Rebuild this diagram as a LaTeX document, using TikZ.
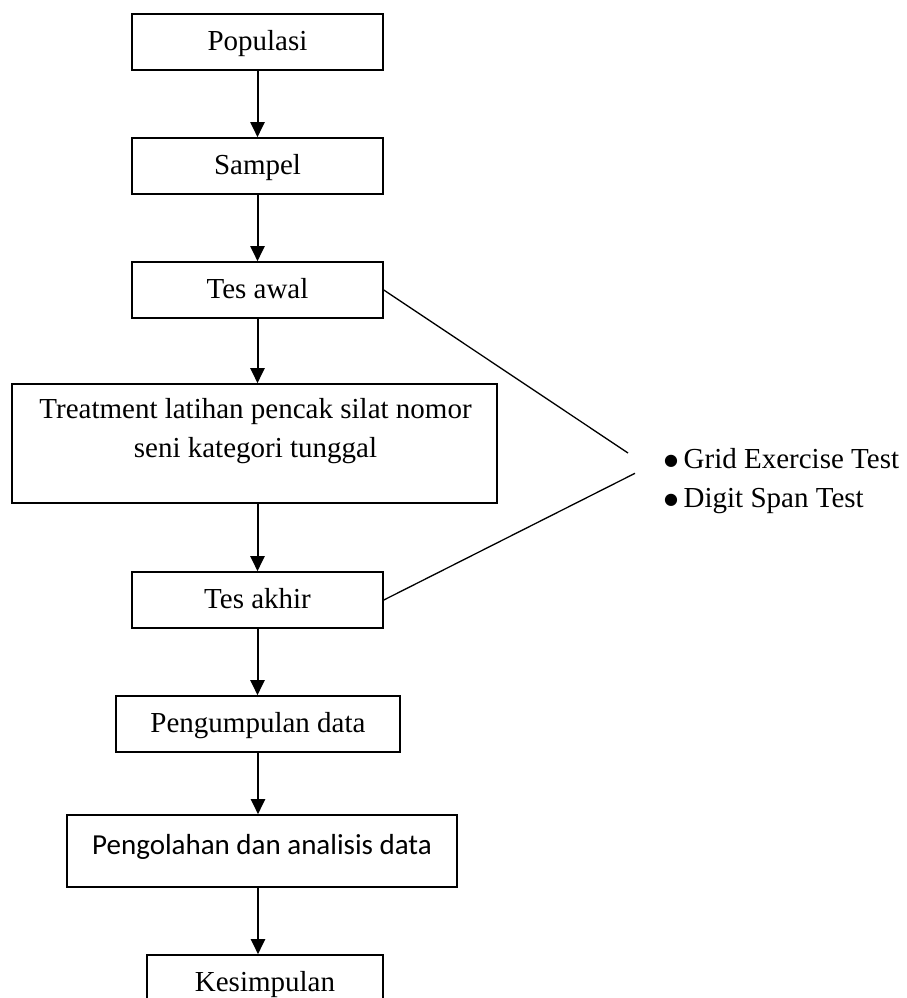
\documentclass[tikz,border=0pt]{standalone}
\usepackage{fontspec}
\setmainfont{Liberation Serif}
\newfontfamily\calibrifont{Carlito}
\newfontfamily\dejavufont{DejaVu Sans}
\usetikzlibrary{arrows.meta,positioning}

\newcommand{\bigbullet}{\raisebox{2.5pt}{\dejavufont\fontsize{16}{39}\selectfont ●}}

\begin{document}
\begin{tikzpicture}[
  x=1pt, y=-1pt,
  font=\fontsize{29}{39}\selectfont,
  >={Triangle[length=15pt,width=14pt]},
  box/.style    ={draw,line width=1.6pt,minimum height=56pt,inner sep=0pt,
                  text height=21pt,text depth=4pt},
  flow/.style   ={->,line width=2pt},
  link/.style   ={line width=1.3pt},
  testlist/.style ={anchor=north west,align=left,inner sep=0pt},
]
\useasboundingbox (0,0) rectangle (907,998);

%% ============================================================
%%  Main column
%% ============================================================
\node[box,minimum width=251pt] (pop)   at (257.5,42)  {Populasi};
\node[box,minimum width=251pt] (samp)  at (257.5,166) {Sampel};
\node[box,minimum width=251pt] (tesaw) at (257.5,290) {Tes awal};
\node[box,minimum width=485pt,minimum height=119pt] (treat) at (254.5,443.5) {};
\node[align=center,inner sep=0pt] (treattxt) at (255.5,431)
      {Treatment latihan pencak silat nomor\\seni kategori tunggal};
\node[box,minimum width=251pt] (tesak) at (257.5,600) {Tes akhir};
\node[box,minimum width=284pt] (peng)  at (258,724)   {Pengumpulan data};
\node[box,minimum width=390pt,minimum height=72pt,
      text height=20pt,text depth=14pt,font=\calibrifont\fontsize{29}{39}\selectfont]
      (olah) at (262,851) {Pengolahan dan analisis data};
\node[box,minimum width=236pt] (kes)   at (265,983)   {Kesimpulan};

%% Arrows down the column
\draw[flow] (pop.south)   -- (samp.north);
\draw[flow] (samp.south)  -- (tesaw.north);
\draw[flow] (tesaw.south) -- (tesaw.south |- treat.north);
\draw[flow] (treat.south -| tesaw) -- (tesak.north);
\draw[flow] (tesak.south) -- (tesak.south |- peng.north);
\draw[flow] (peng.south)  -- (peng.south |- olah.north);
\draw[flow] (olah.south -| peng) -- (peng |- kes.north);

%% ============================================================
%%  Test instruments
%% ============================================================
\coordinate (tip1) at (628,453);
\coordinate (tip2) at (635,473.3);
\draw[link] (tesaw.east) -- (tip1);
\draw[link] (tesak.east) -- (tip2);

\node[testlist] (tests) at (664,448)
      {\bigbullet\hspace{5.5pt}Grid Exercise Test\\
       \bigbullet\hspace{5.5pt}Digit Span Test};

\end{tikzpicture}
\end{document}
